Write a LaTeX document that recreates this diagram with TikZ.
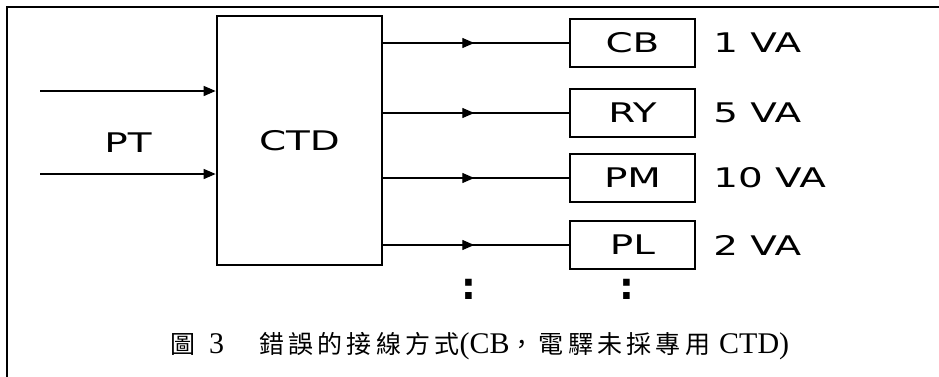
\documentclass[tikz,border=0pt]{standalone}
\usepackage{fontspec}
\usepackage{graphicx}
\setmainfont{Liberation Serif}
\setsansfont{DejaVu Sans}
\newfontfamily\cjk[LetterSpace=17]{Noto Sans CJK TC}
\usetikzlibrary{arrows.meta,positioning,decorations.markings}
\newcommand\wide[1]{\scalebox{1.44}[1]{#1}}
\tikzset{
  feed/.style={line width=1.4pt},
  midarrow/.style={feed,postaction={decorate},
    decoration={markings,mark=at position 0.49 with {\arrow{Triangle[length=12pt,width=10pt]}}}},
  devbox/.style={draw,line width=2.3pt,minimum width=125pt,minimum height=48pt,
    inner sep=0pt,font=\fontsize{27}{27}\sffamily},
  valabel/.style={inner sep=0pt,font=\fontsize{27}{27}\sffamily},
  dotmark/.style={inner sep=0pt,font=\fontsize{37}{37}\sffamily\bfseries},
}

\begin{document}
\begin{tikzpicture}[x=1pt,y=-1pt,>={Triangle[length=12pt,width=10pt]}]
  \useasboundingbox (0,0) rectangle (939,376);
  \draw[line width=1.5pt] (7,390) -- (7,7) -- (950,7);
  % PT side
  \node[draw,line width=2.7pt,minimum width=165pt,minimum height=249pt,inner sep=0pt,
    font=\fontsize{27}{27}\sffamily] (ctd) at (299.5,140.5) {\wide{CTD}};
  \node[font=\fontsize{27}{27}\sffamily,inner sep=0pt] (pt) at (128,143) {\wide{PT}};
  \coordinate (in1) at (40,91);
  \coordinate (in2) at (40,174);
  \draw[feed,->] (in1) -- (ctd.west |- in1);
  \draw[feed,->] (in2) -- (ctd.west |- in2);
  % loads
  \node[devbox] (cb) at (632.5,43) {\wide{CB}};
  \node[devbox] (ry) at (632.5,113) {\wide{RY}};
  \node[devbox] (pm) at (632.5,178) {\wide{PM}};
  \node[devbox] (pl) at (632.5,245) {\wide{PL}};
  \foreach \dev/\va in {cb/1,ry/5,pm/10,pl/2}{
    \draw[midarrow] (ctd.east |- \dev.west) -- (\dev.west);
    \node[valabel,right=17pt of \dev] (\dev va) {\wide{\va{} VA}};
  }
  \node[dotmark] (linedots) at (469,289) {:};
  \node[dotmark] (boxdots) at (627,289) {:};
  % caption
  \node[anchor=base west,inner sep=0pt,font=\fontsize{30}{30}\selectfont] (caption) at (170,353)
    {{\cjk\fontsize{25}{25}\selectfont 圖}\hspace{14pt}3\hspace{35pt}{\cjk\fontsize{25}{25}\selectfont 錯誤的接線方式}(CB{\cjk\fontsize{25}{25}\selectfont ，電驛未採專用}\hspace{9pt}CTD)};
\end{tikzpicture}
\end{document}
